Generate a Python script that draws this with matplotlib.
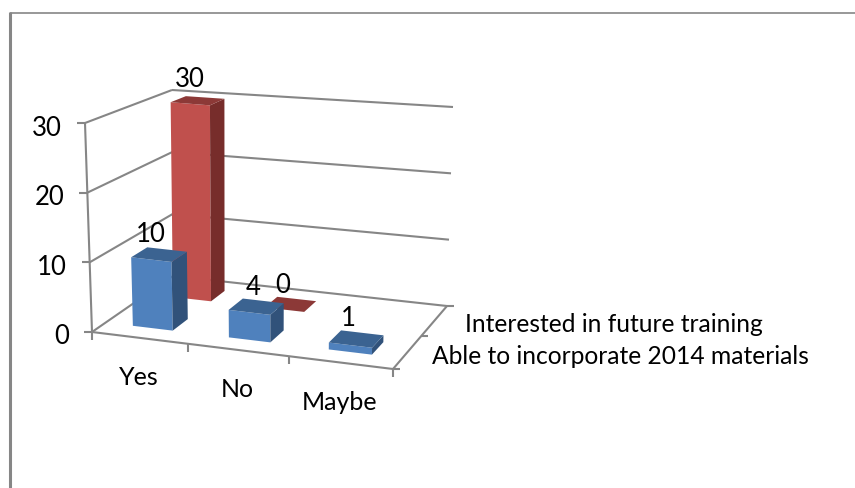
import numpy as np
import matplotlib
matplotlib.use('Agg')
import matplotlib.pyplot as plt
from matplotlib.patches import Polygon

plt.rcParams['font.family'] = ['Lato', 'DejaVu Sans']

categories = ['Yes', 'No', 'Maybe']
series_names = ['Able to incorporate 2014 materials', 'Interested in future training']
able_values = [10, 4, 1]
interested_values = [30, 0, np.nan]
y_ticks = [0, 10, 20, 30]
y_max = 30

# chart box corners on screen (pixels): front-left, front-right, back-right, back-left
floor_px = np.array([[92, 333], [393, 370], [447, 307], [173, 277]], float)
top_px = np.array([[85, 124], [397, 161], [453, 108], [172, 91]], float)

GRID = '#868686'
BLUE = ('#4F81BD', '#31527A', '#3B6391')   # front, side, top
RED = ('#C0504D', '#772D2B', '#8C3937')
TXT = 18.5
CAT_TXT = 18
SER_TXT = 17.7

# pixel nudges for the value labels, per series and category
able_nudge = [(0, 2), (5, 3), (0, 2)]
interested_nudge = [(0, 1), (0, 3), (0, 0)]


def homography(src, dst):
    A, b = [], []
    for (x, y), (X, Y) in zip(src, dst):
        A.append([x, y, 1, 0, 0, 0, -x * X, -y * X])
        A.append([0, 0, 0, x, y, 1, -x * Y, -y * Y])
        b += [X, Y]
    h = np.linalg.solve(np.array(A), np.array(b))
    return np.append(h, 1).reshape(3, 3)


H = homography([(0, 0), (1, 0), (1, 1), (0, 1)], floor_px)
lift = top_px - floor_px


def project(cat, ser, val):
    # cat runs 0..3 along the front edge, ser 0..2 into the depth
    u, v = cat / 3, ser / 2
    p = H @ np.array([u, v, 1])
    base = p[:2] / p[2]
    up = ((1 - u) * (1 - v) * lift[0] + u * (1 - v) * lift[1]
          + u * v * lift[2] + (1 - u) * v * lift[3])
    return base + up * val / y_max


fig = plt.figure(figsize=(8.55, 4.89), dpi=100)
ax = fig.add_axes([0, 0, 1, 1])
ax.set_xlim(0, 855)
ax.set_ylim(489, 0)
ax.axis('off')


def seg(a, b, lw=1.5):
    ax.plot([a[0], b[0]], [a[1], b[1]], color=GRID, lw=lw, solid_capstyle='butt', zorder=1)


# outer chart border
seg((10, 13), (10, 489), 2.2)
seg((10, 13.5), (855, 13.5), 1.2)

# walls and floor
seg(project(0, 0, 0), project(0, 0, y_max))
for t in y_ticks:
    seg(project(0, 0, t), project(0, 2, t))
    seg(project(0, 2, t), project(3, 2, t))
    a = project(0, 0, t)
    seg(a, a + np.array([-8, 0]))
    ax.text(a[0] - 23, a[1] + 4, str(t), ha='right', va='center', fontsize=TXT, color='black')
seg(project(0, 0, 0), project(3, 0, 0))
seg(project(3, 0, 0), project(3, 2, 0))
for c in range(4):
    a = project(c, 0, 0)
    seg(a, a + np.array([0, 8]))
for s in range(3):
    a = project(3, s, 0)
    seg(a, a + np.array([7, 0]))


def bar(cat, ser, val, colors, z):
    x0, x1 = cat + 0.5 - 0.21, cat + 0.5 + 0.21
    y0, y1 = ser + 0.5 - 0.19, ser + 0.5 + 0.19
    if val > 0:
        ax.add_patch(Polygon([project(x0, y0, 0), project(x1, y0, 0), project(x1, y0, val), project(x0, y0, val)],
                             fc=colors[0], ec='none', zorder=z))
        ax.add_patch(Polygon([project(x1, y0, 0), project(x1, y1, 0), project(x1, y1, val), project(x1, y0, val)],
                             fc=colors[1], ec='none', zorder=z))
    ax.add_patch(Polygon([project(x0, y0, val), project(x1, y0, val), project(x1, y1, val), project(x0, y1, val)],
                         fc=colors[2], ec='none', zorder=z))


def value_label(cat, ser, val, nudge):
    p = project(cat + 0.5, ser + 0.5, val)
    ax.text(p[0] - 8 + nudge[0], p[1] - 23 + nudge[1], str(val), ha='center', va='center',
            fontsize=TXT, color='black', zorder=10)


for i in range(len(categories)):
    if not np.isnan(interested_values[i]):
        bar(i, 1, interested_values[i], RED, 3)
for i in range(len(categories)):
    bar(i, 0, able_values[i], BLUE, 4 + i)
for i in range(len(categories)):
    value_label(i, 0, able_values[i], able_nudge[i])
    if not np.isnan(interested_values[i]):
        value_label(i, 1, interested_values[i], interested_nudge[i])

# category and series names
for i, name in enumerate(categories):
    p = project(i + 0.5, 0, 0)
    ax.text(p[0] - 1, p[1] + 39, name, ha='center', va='center', fontsize=CAT_TXT, color='black')
ax.text(465, 324, series_names[1], ha='left', va='center', fontsize=SER_TXT, color='black')
ax.text(432, 357, series_names[0], ha='left', va='center', fontsize=SER_TXT, color='black')

fig.savefig('out.png', dpi=100)
